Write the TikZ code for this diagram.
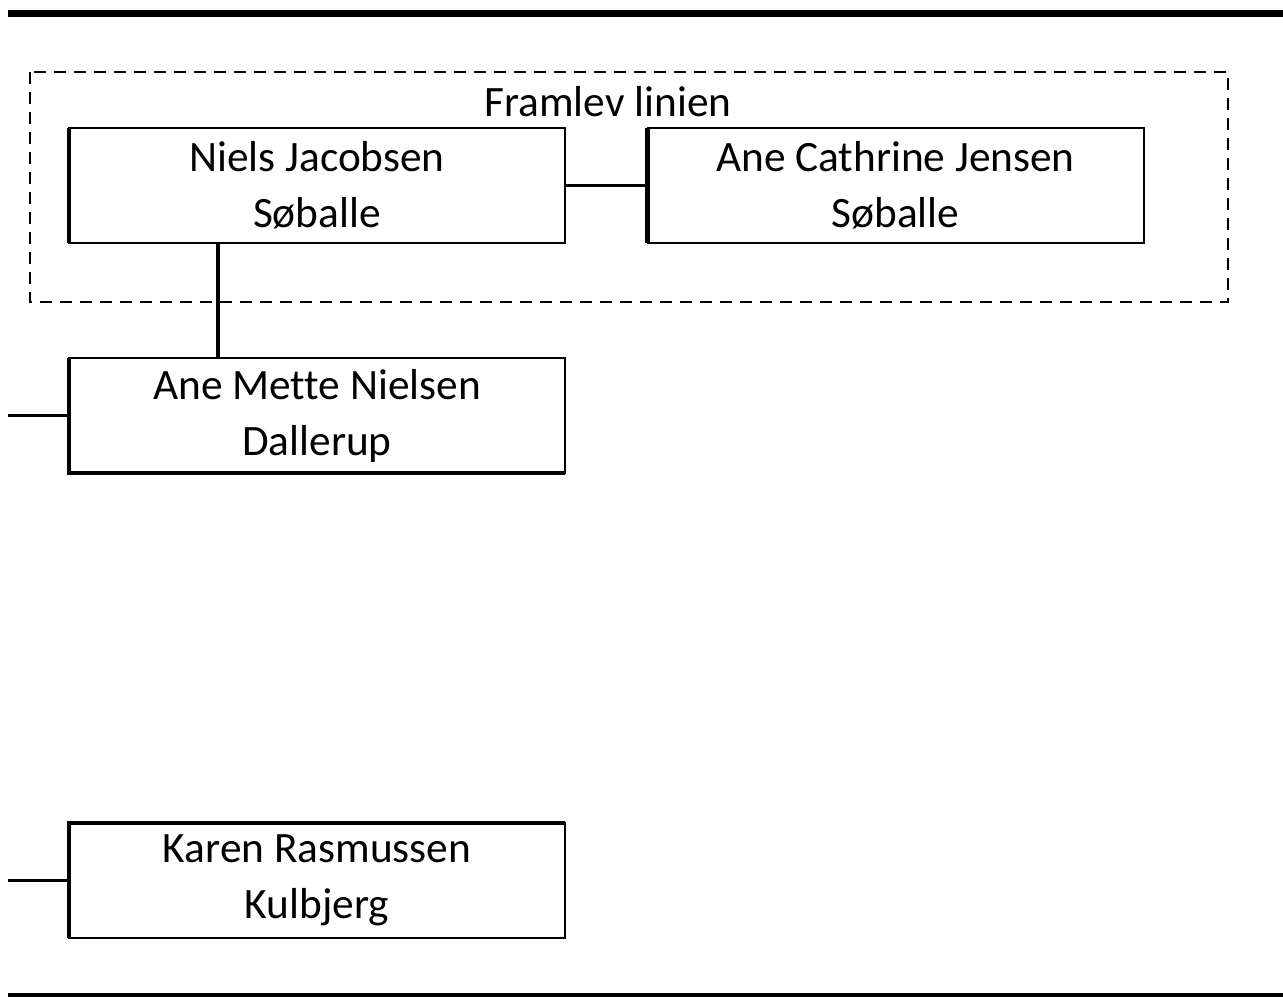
\documentclass[tikz,border=0pt]{standalone}
\usepackage{fontspec}
\setmainfont[Ligatures=NoCommon]{Carlito}
\tikzset{
  person/.style={draw, line width=1.5pt, minimum width=372pt, minimum height=86.25pt,
    inner sep=0pt, outer sep=0pt, align=center, font=\fontsize{32.5}{42}\selectfont},
  link/.style={line width=2.8pt},
  thickedge/.style={line width=3.2pt},
  frame/.style={line width=1.5pt, dash pattern=on 9pt off 6pt},
}
\begin{document}
\begin{tikzpicture}[x=0.75pt, y=-0.75pt]
	    \useasboundingbox (0,0) rectangle (1283,997);
	    \draw[line width=5.25pt] (8,13) -- (1283,13);
	    \draw[line width=3pt] (8,995) -- (1283,995);
	    \draw[frame] (30,72) rectangle (1228,302);
	    \node[font=\fontsize{32.5}{42}\selectfont] (title) at (608,102) {Framlev linien};
	    \node[person] (niels) at (317,185.5) {Niels Jacobsen\\Søballe};
	    \node[person] (cathrine) at (895.5,185.5) {Ane Cathrine Jensen\\Søballe};
	    \node[person] (mette) at (317,415.5) {Ane Mette Nielsen\\Dallerup};
	    \node[person] (karen) at (317,880.5) {Karen Rasmussen\\Kulbjerg};
	    \coordinate (m0) at (8,415.5);
	    \coordinate (k0) at (8,880.5);
	    \draw[thickedge] (niels.north west) -- (niels.south west);
	    \draw[thickedge] (cathrine.north west) -- (cathrine.south west);
	    \draw[thickedge] (mette.north west) -- (mette.south west) -- (mette.south east);
	    \draw[thickedge] (karen.south west) -- (karen.north west) -- (karen.north east);
	    \draw[link] (niels.east) -- (cathrine.west);
	    \draw[link] ([xshift=111.75pt]niels.south west) -- ([xshift=111.75pt]mette.north west);
	    \draw[link] (m0) -- (mette.west);
	    \draw[link] (k0) -- (karen.west);
\end{tikzpicture}
\end{document}
